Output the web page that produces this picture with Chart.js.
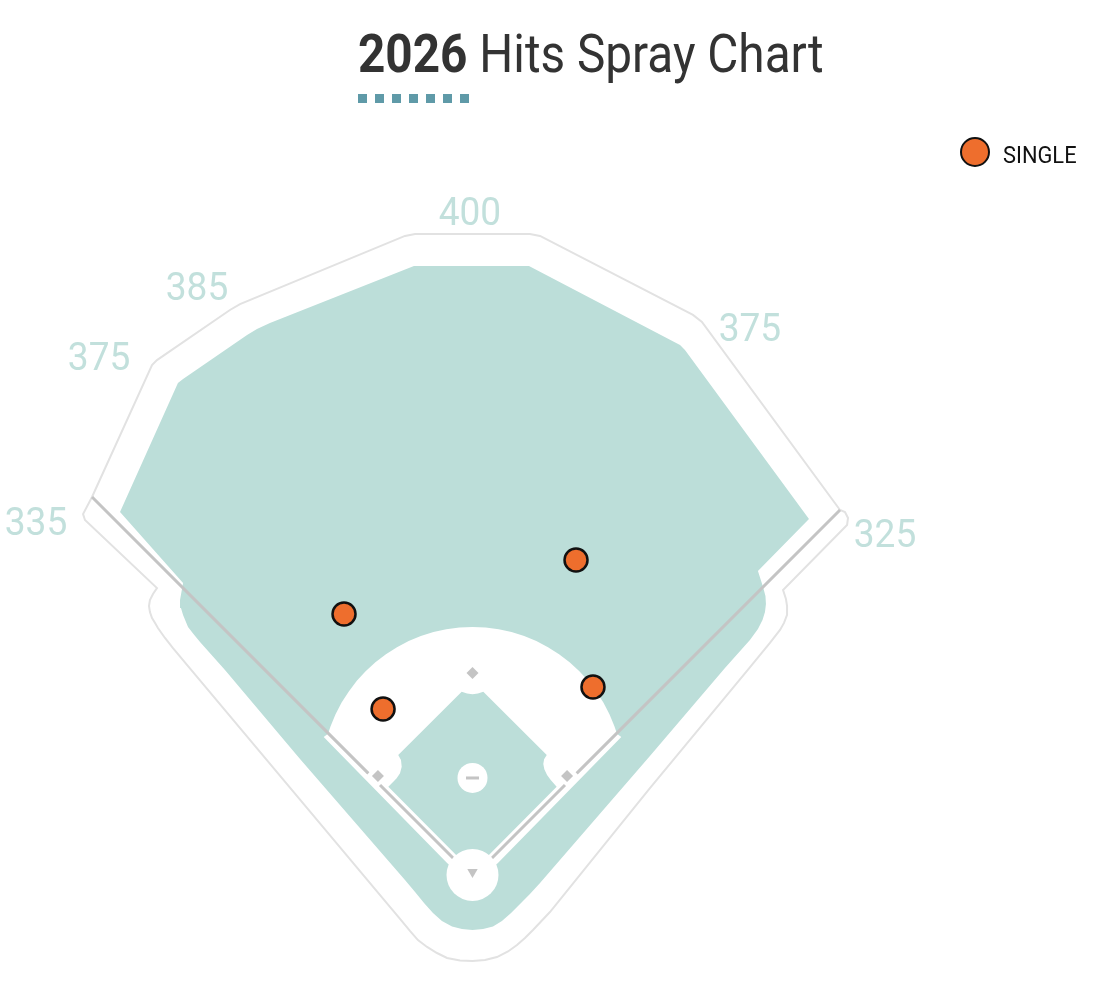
<!DOCTYPE html>
<html>
<head>
<meta charset="utf-8">
<title>2026 Hits Spray Chart</title>
<script src="https://cdn.jsdelivr.net/npm/chart.js@4"></script>
<style>
  html, body { margin: 0; padding: 0; background: #fff; }
  #wrap { position: relative; width: 1107px; height: 1007px; overflow: hidden; font-family: Roboto, sans-serif; }
  #myChart { position: absolute; left: 0; top: 0; }
  #title { position: absolute; left: 358px; top: 23px; font-size: 53px; line-height: 62px; color: #333; white-space: nowrap; transform: scaleX(.9); transform-origin: left top; }
  #title b { font-weight: 700; }
  #dots { position: absolute; left: 358px; top: 94px; width: 111px; height: 9px; background: repeating-linear-gradient(90deg, #5f9aa8 0 9px, transparent 9px 17px); }
  #key { position: absolute; left: 960px; top: 137px; width: 26px; height: 26px; border: 2.5px solid #111; border-radius: 50%; background: #ee6e2d; }
  #keytext { position: absolute; left: 1003px; top: 141px; font-size: 24px; line-height: 28px; color: #111; white-space: nowrap; transform: scaleX(.91); transform-origin: left top; }
</style>
</head>
<body>
<div id="wrap">
  <canvas id="myChart" width="1107" height="1007"></canvas>
  <div id="title"><b>2026</b> Hits Spray Chart</div>
  <div id="dots"></div>
  <div id="key"></div>
  <div id="keytext">SINGLE</div>
</div>
<script>
// everything in feet, home plate = 0,0
var hitsX = [-80.3, 64.7, -55.9, 75.3];
var hitsY = [164.7, 198.4, 105.3, 119.1];

var distances = ['400', '385', '375', '335', '375', '325'];
var distancesX = [-1.6, -172.2, -233.4, -272.8, 173.4, 257.8];
var distancesY = [414.1, 367.2, 323.4, 220.3, 341.6, 212.8];

var fenceX = [-237.8, -243.4, -242.2, -197.2, -199.7, -201.6, -202.2, -201.6, -200.3, -198.4, -196.6, -192.2, -187.2, -175.3, -107.8, -51.6, -45.3, -39.1, -34.1, -28.4, -22.2, -15.9, -7.8, 0, 7.8, 15.3, 22.2, 27.8, 32.8, 37.8, 48.4, 110.9, 172.2, 185.9, 192.2, 194.7, 196.6, 196.6, 195.9, 194.1, 234.1, 234.7, 232.8, 229.7, 143.4, 137.8, 42.2, 35.9, -35.9, -42.2, -145.3, -151.6, -197.2, -200.3, -237.8];
var fenceY = [237.8, 227.2, 223.4, 180.9, 177.2, 173.4, 169.7, 165.9, 162.2, 159.1, 155.9, 149.7, 143.4, 129.1, 48.7, -18.4, -25.9, -33.4, -39.1, -43.4, -47.2, -50.3, -51.9, -52.2, -51.6, -49.7, -46.25, -42.2, -37.8, -32.8, -21.6, 55.9, 129.9, 146.6, 154.7, 159.1, 164.1, 169.7, 174.1, 179.7, 220.3, 224.7, 228.4, 229.7, 347.2, 351.6, 401, 402.2, 402.2, 401, 358.4, 354.7, 323.4, 320.3, 237.8];

var grassX = [-220.3, -184.1, -180.9, -140.9, -134.7, -126.6, -36.6, 35.3, 129.7, 132.8, 210.3, 178.4, 181.6, 183.1, 183.4, 182.8, 181.25, 178.4, 173.4, 157.8, 110.9, 42.2, 35.9, 29.7, 24.1, 18.4, 12.8, 6.6, 0, -6.6, -12.8, -19.1, -24.7, -30.3, -35.9, -42.2, -107.8, -154.7, -170.3, -174.4, -177.8, -180.9, -182.2, -182.8, -181.9, -180.9, -220.3];
var grassY = [228.4, 309.1, 311.6, 339.1, 342.8, 346.6, 382.2, 382.2, 332.8, 329.7, 224.1, 191.6, 181.6, 175.9, 170.9, 165.9, 160.9, 155.3, 148.4, 130.9, 75.9, -3.4, -10.3, -16.6, -22.2, -27.2, -30.6, -32.2, -32.8, -32.2, -30.6, -27.2, -22.2, -15.9, -9.1, -1.6, 74.1, 129.7, 147.2, 152.2, 156.6, 164.1, 168.4, 173.4, 178.4, 184.1, 228.4];

var dirtX = [-93, -90.3, -88.7, -85.6, -81.8, -77.3, -72.3, -66.8, -60.7, -54.1, -47.2, -39.9, -32.3, -24.4, -16.4, -8.2, 0, 8.2, 16.4, 24.4, 32.3, 39.9, 47.2, 54.1, 60.7, 66.8, 72.3, 77.3, 81.8, 85.6, 88.7, 90.3, 93, 15.9, 0, -15.9, -93];
var dirtY = [87.8, 89.8, 94.5, 102.1, 109.4, 116.3, 122.9, 128.95, 134.5, 139.5, 143.95, 147.8, 150.9, 153.4, 155.2, 156.2, 156.6, 156.2, 155.2, 153.4, 150.9, 147.8, 143.95, 139.5, 134.5, 128.95, 122.9, 116.3, 109.4, 102.1, 94.5, 89.8, 87.8, 9.1, -5, 9.1, 87.8];

var infieldX = [-6.75, -3.4, 0, 3.4, 6.75, 46.4, 44.75, 44.25, 44.9, 46.6, 48.9, 52.6, 0, -52.6, -49.5, -47.4, -45.3, -44.25, -44.7, -46.4, -6.75];
var infieldY = [116.1, 115, 114.5, 115, 116.1, 76.6, 73.9, 71, 67.7, 64.1, 60.9, 56.75, 3.75, 56.75, 59.9, 62, 65.1, 69.25, 73.4, 76.6, 116.1];

var foulLeftX = [-237.8, -65.1, null, -57.8, -4.5];
var foulLeftY = [237.8, 65.1, null, 57.8, 4.5];
var foulRightX = [229.7, 65.1, null, 57.8, 4.7];
var foulRightY = [229.7, 65.1, null, 57.8, 4.7];

var basesX = [0, 59.1, -59.1];
var basesY = [127.8, 63.4, 63.4];

function pts(xs, ys) {
    var out = [];
    for (var i = 0; i < xs.length; i++) {
        out.push({x: xs[i], y: ys[i]});
    }
    return out;
}

function shape(xs, ys, fillColor, order) {
    return {
        data: pts(xs, ys),
        showLine: true,
        fill: fillColor ? 'shape' : false,
        backgroundColor: fillColor || 'transparent',
        borderColor: fillColor || '#e2e2e2',
        borderWidth: fillColor ? 0 : 2,
        pointRadius: 0,
        tension: 0,
        order: order
    };
}

function foul(xs, ys) {
    return {
        data: pts(xs, ys),
        showLine: true,
        fill: false,
        borderColor: '#c4c4c4',
        borderWidth: 3,
        pointRadius: 0,
        order: 4
    };
}

// little helper plugin for the fence numbers, roboto is too wide so squeeze it
var fenceLabels = {
    id: 'fenceLabels',
    afterDatasetsDraw: function (chart) {
        var c = chart.ctx;
        for (var i = 0; i < distances.length; i++) {
            c.save();
            c.translate(chart.scales.x.getPixelForValue(distancesX[i]), chart.scales.y.getPixelForValue(distancesY[i]));
            c.scale(0.95, 1);
            c.font = '400 39px Roboto';
            c.fillStyle = '#c2e0dc';
            c.textAlign = 'center';
            c.textBaseline = 'middle';
            c.fillText(distances[i], 0, 0);
            c.restore();
        }
    }
};

var veld = document.getElementById('myChart').getContext('2d');
var chart = new Chart(veld, {
    type: 'scatter',
    data: {
        datasets: [
            shape(fenceX, fenceY, null, 9),
            shape(grassX, grassY, '#bcded9', 8),
            shape(dirtX, dirtY, '#ffffff', 7),
            shape(infieldX, infieldY, '#bcded9', 6),
            foul(foulLeftX, foulLeftY),
            foul(foulRightX, foulRightY),
            {   // home circle
                data: pts([0], [1.6]),
                pointRadius: 26,
                backgroundColor: '#fff',
                borderWidth: 0,
                order: 3
            },
            {   // mound
                data: pts([0], [62.2]),
                pointRadius: 15,
                backgroundColor: '#fff',
                borderWidth: 0,
                order: 3
            },
            {   // rubber
                data: pts([0], [62.2]),
                pointStyle: 'line',
                pointRadius: 6.5,
                borderColor: '#c4c4c4',
                borderWidth: 3,
                order: 2
            },
            {
                data: pts(basesX, basesY),
                pointStyle: 'rectRot',
                pointRadius: 6,
                backgroundColor: '#c4c4c4',
                borderWidth: 0,
                order: 2
            },
            {   // home plate
                data: pts([0], [3.4]),
                pointStyle: 'triangle',
                rotation: 180,
                pointRadius: 6,
                backgroundColor: '#c4c4c4',
                borderWidth: 0,
                order: 2
            },
            {
                label: 'SINGLE',
                data: pts(hitsX, hitsY),
                pointRadius: 11.5,
                backgroundColor: '#ee6e2d',
                borderColor: '#111',
                borderWidth: 2.5,
                order: 1
            }
        ]
    },
    options: {
        responsive: false,
        animation: false,
        layout: {padding: 0, autoPadding: false},
        scales: {
            x: {display: false, min: -295.3125, max: 396.5625},
            y: {display: false, min: -80.9375, max: 548.4375}
        },
        plugins: {
            legend: {display: false},
            tooltip: {enabled: false}
        }
    },
    plugins: [fenceLabels]
});
</script>
</body>
</html>
